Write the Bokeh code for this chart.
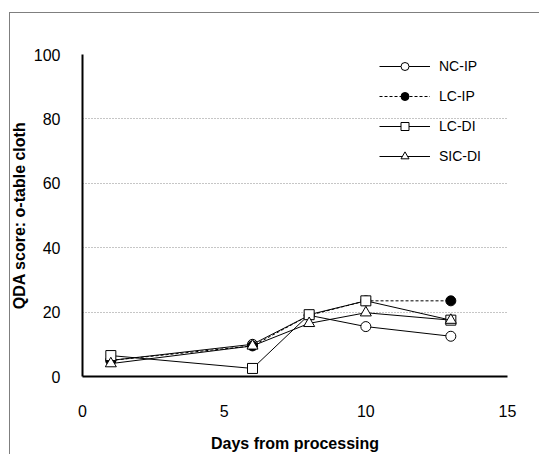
from bokeh.plotting import figure
from bokeh.models import Range1d, Legend, LegendItem, FixedTicker, InlineStyleSheet
from bokeh.embed import file_html
from bokeh.resources import INLINE

days = [1, 6, 8, 10, 13]
nc_ip = [5.0, 10.0, 19.0, 15.5, 12.5]
lc_ip = [5.0, 9.5, 19.0, 23.5, 23.5]
lc_di = [6.5, 2.5, 19.2, 23.5, 17.5]
sic_di = [4.0, 9.5, 16.5, 19.8, 17.5]
series_names = ["NC-IP", "LC-IP", "LC-DI", "SIC-DI"]
x_ticks = [0, 5, 10, 15]
y_ticks = [0, 20, 40, 60, 80, 100]

FONT = "Liberation Sans"

p = figure(width=539, height=454, output_backend="svg", toolbar_location=None,
           x_range=Range1d(0, 15), y_range=Range1d(0, 100),
           min_border_left=82, min_border_right=32, min_border_top=54, min_border_bottom=77)
p.outline_line_color = None
p.background_fill_color = "white"
p.border_fill_color = "white"

# outer chart-area border (runs past the right and bottom edges of the window)
p.stylesheets = [InlineStyleSheet(css="""
:host { position: relative; overflow: hidden; }
:host::after {
  content: ""; position: absolute; left: 9px; top: 12px; width: 600px; height: 520px;
  border: 1.5px solid #7f7f7f; pointer-events: none; box-sizing: border-box;
}
""")]

p.xgrid.grid_line_color = None
p.ygrid.grid_line_color = "#8c8c8c"
p.ygrid.grid_line_dash = "1 2"
p.ygrid.grid_line_width = 1
p.ygrid.ticker = FixedTicker(ticks=y_ticks)

for ax, ticks in ((p.xaxis, x_ticks), (p.yaxis, y_ticks)):
    ax.ticker = FixedTicker(ticks=ticks)
    ax.axis_line_color = "black"
    ax.axis_line_width = 2
    ax.major_tick_line_color = None
    ax.minor_tick_line_color = None
    ax.major_label_text_font = FONT
    ax.major_label_text_font_size = "16px"
    ax.major_label_text_color = "black"
    ax.axis_label_text_font = FONT
    ax.axis_label_text_font_size = "16px"
    ax.axis_label_text_font_style = "bold"
    ax.axis_label_text_color = "black"

p.xaxis.axis_label = "Days from processing"
p.yaxis.axis_label = "QDA score: o-table cloth"
p.xaxis.major_label_standoff = 22
p.xaxis.axis_label_standoff = 15
p.yaxis.major_label_standoff = 16
p.yaxis.axis_label_standoff = 3

items = []
specs = [
    (nc_ip, "solid", "circle", "white", 10),
    (lc_ip, "3 2", "circle", "black", 10),
    (lc_di, "solid", "square", "white", 10),
    (sic_di, "solid", "triangle", "white", 11),
]
for name, (vals, dash, marker, fill, size) in zip(series_names, specs):
    ln = p.line(days, vals, line_color="black", line_width=1, line_dash=dash)
    sc = p.scatter(days, vals, marker=marker, size=size, fill_color=fill,
                   line_color="black", line_width=1)
    items.append(LegendItem(label=name, renderers=[ln, sc]))

legend = Legend(items=items, location=(297, 210), padding=0, spacing=10, margin=0,
                glyph_width=51, glyph_height=20, label_height=20, label_standoff=9,
                border_line_color=None, background_fill_alpha=0,
                label_text_font=FONT, label_text_font_size="14px", label_text_color="black")
p.add_layout(legend)

open("out.html", "w").write(file_html(p, INLINE))
